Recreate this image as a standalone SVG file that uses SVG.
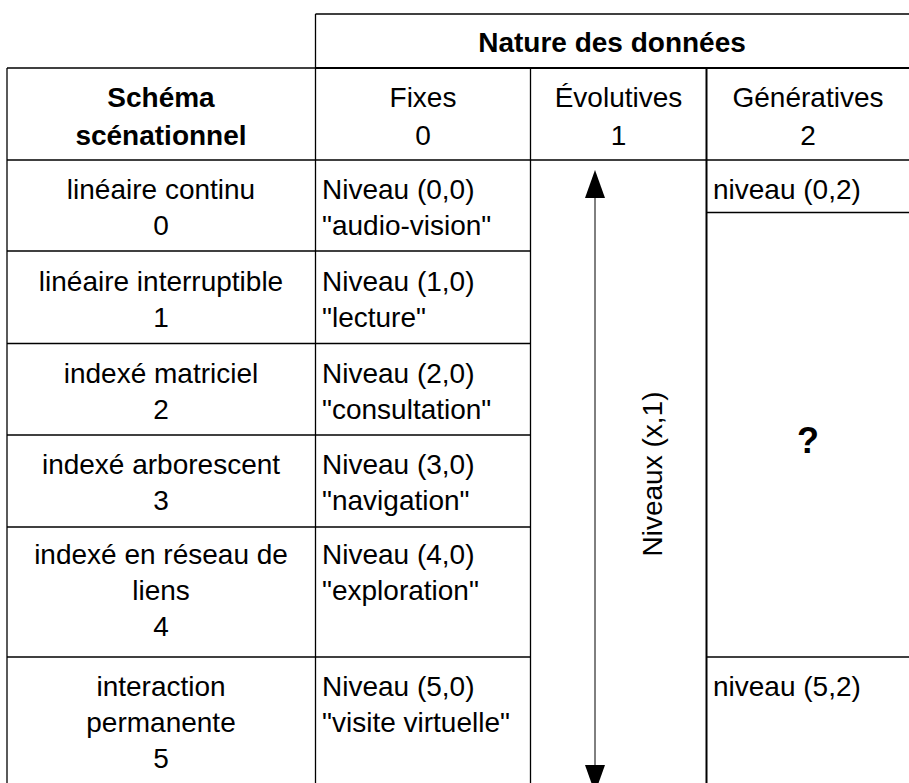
<svg xmlns="http://www.w3.org/2000/svg" width="909" height="783" viewBox="0 0 909 783">
<style>
text { font-family: "Liberation Sans", Arial, sans-serif; font-size: 28px; fill: #000; }
.b { font-weight: bold; }
.c { text-anchor: middle; }
.grid line { stroke: #000; stroke-width: 1.3; }
.grid line.thick { stroke-width: 2; }
.arrow { stroke: #000; stroke-width: 1; fill: none; }
</style>
<defs>
<marker id="ah" markerUnits="userSpaceOnUse" markerWidth="28" markerHeight="20" refX="0" refY="10" orient="auto-start-reverse" viewBox="0 0 28 20">
<path d="M0,0 L28,10 L0,20 z" fill="#000"/>
</marker>
</defs>
<rect width="909" height="783" fill="#fff"/>
<g class="grid" id="grid">
<line x1="315.5" y1="14" x2="909" y2="14"/>
<line x1="7" y1="68" x2="315.5" y2="68"/>
<line class="thick" x1="315.5" y1="68" x2="909" y2="68"/>
<line x1="7" y1="160" x2="909" y2="160"/>
<line x1="7" y1="251" x2="530.5" y2="251"/>
<line x1="7" y1="343.5" x2="530.5" y2="343.5"/>
<line x1="7" y1="435" x2="530.5" y2="435"/>
<line x1="7" y1="527" x2="530.5" y2="527"/>
<line x1="7" y1="657" x2="530.5" y2="657"/>
<line x1="706.5" y1="657" x2="909" y2="657"/>
<line x1="706.5" y1="212.5" x2="909" y2="212.5"/>
<line x1="7" y1="68" x2="7" y2="783"/>
<line x1="315.5" y1="14" x2="315.5" y2="783"/>
<line x1="530.5" y1="68" x2="530.5" y2="783"/>
<line class="thick" x1="706.5" y1="68" x2="706.5" y2="783"/>
</g>
<g id="nature-header"><text class="b c" x="612" y="52">Nature des données</text></g>
<g id="schema-header"><text class="b c" x="161" y="107">Schéma</text><text class="b c" x="161" y="145">scénationnel</text></g>
<g id="fixes-header"><text class="c" x="423" y="107">Fixes</text><text class="c" x="423" y="145">0</text></g>
<g id="evolutives-header"><text class="c" x="618.5" y="107">Évolutives</text><text class="c" x="618.5" y="145">1</text></g>
<g id="generatives-header"><text class="c" x="808" y="107">Génératives</text><text class="c" x="808" y="145">2</text></g>

<g id="row0"><text class="c" x="161" y="199">linéaire continu</text><text class="c" x="161" y="235">0</text></g>
<g id="row1"><text class="c" x="161" y="291">linéaire interruptible</text><text class="c" x="161" y="327">1</text></g>
<g id="row2"><text class="c" x="161" y="382.5">indexé matriciel</text><text class="c" x="161" y="418.5">2</text></g>
<g id="row3"><text class="c" x="161" y="474">indexé arborescent</text><text class="c" x="161" y="510">3</text></g>
<g id="row4"><text class="c" x="161" y="564">indexé en réseau de</text><text class="c" x="161" y="600">liens</text><text class="c" x="161" y="636">4</text></g>
<g id="row5"><text class="c" x="161" y="696">interaction</text><text class="c" x="161" y="732">permanente</text><text class="c" x="161" y="768">5</text></g>

<g id="level00"><text x="322" y="199">Niveau (0,0)</text><text x="322" y="235">"audio-vision"</text></g>
<g id="level10"><text x="322" y="291">Niveau (1,0)</text><text x="322" y="327">"lecture"</text></g>
<g id="level20"><text x="322" y="382.5">Niveau (2,0)</text><text x="322" y="418.5">"consultation"</text></g>
<g id="level30"><text x="322" y="474">Niveau (3,0)</text><text x="322" y="510">"navigation"</text></g>
<g id="level40"><text x="322" y="564">Niveau (4,0)</text><text x="322" y="600">"exploration"</text></g>
<g id="level50"><text x="322" y="696">Niveau (5,0)</text><text x="322" y="732">"visite virtuelle"</text></g>

<g id="level-x1"><text class="c" transform="translate(662,474) rotate(-90)">Niveaux (x,1)</text></g>
<g id="level02"><text x="713" y="199">niveau (0,2)</text></g>
<g id="unknown"><text class="b c" x="808" y="453" style="font-size:36px">?</text></g>
<g id="level52"><text x="713" y="696">niveau (5,2)</text></g>

<g id="connectors">
<line class="arrow" x1="595" y1="198" x2="595" y2="765" marker-start="url(#ah)" marker-end="url(#ah)"/>
</g>
</svg>
